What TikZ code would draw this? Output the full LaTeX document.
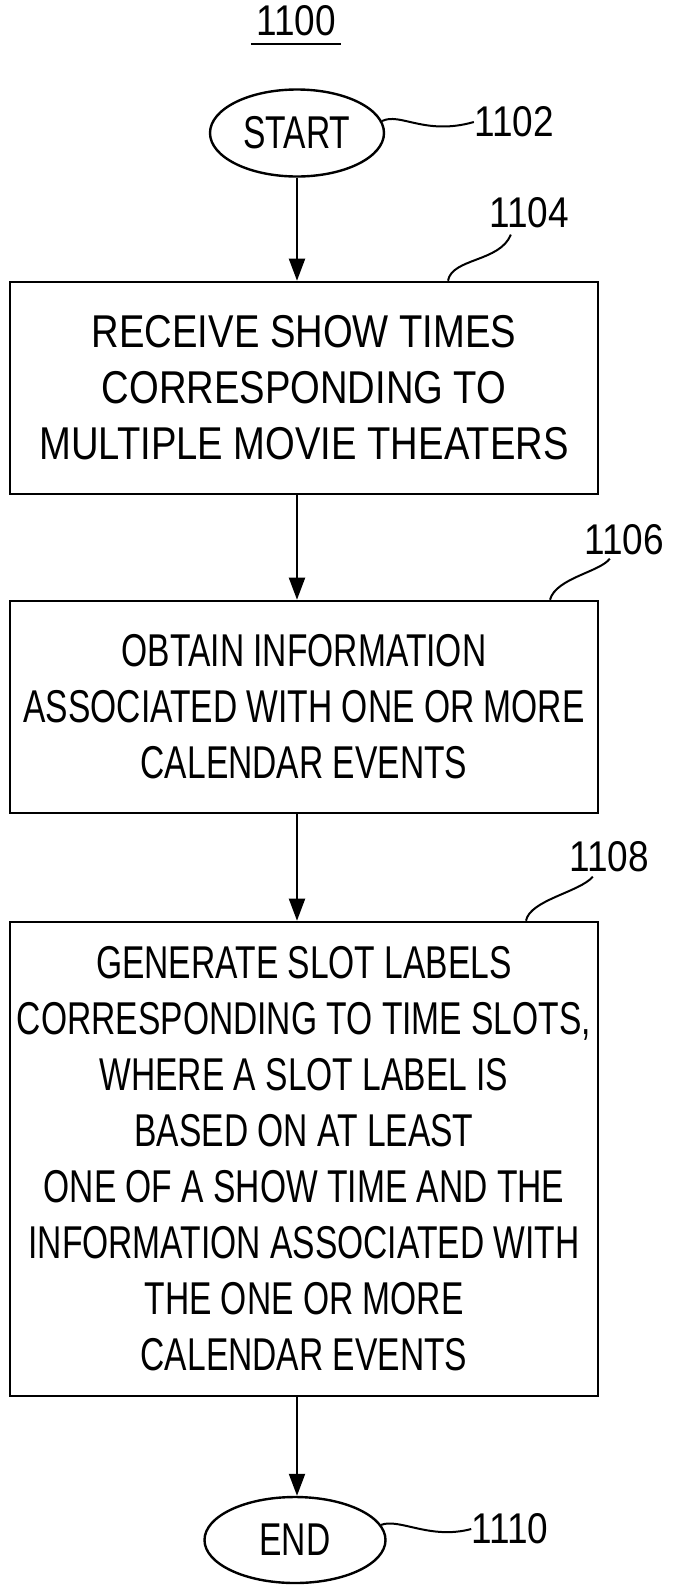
\documentclass[tikz,border=0pt]{standalone}
\usepackage{fontspec}
\setmainfont{Liberation Sans}[FakeStretch=0.73]
\newfontfamily\wideface{Liberation Sans}[FakeStretch=0.83]
\newfontfamily\numface{Liberation Sans}[FakeStretch=0.86]
\usetikzlibrary{shapes.geometric,arrows.meta}

\tikzset{
  stepbox/.style={draw, line width=1.3pt, minimum width=294pt, inner sep=0pt,
    align=center, font=\fontsize{23}{28}\selectfont},
  terminal/.style={draw, ellipse, line width=1.2pt, inner sep=0pt,
    font=\fontsize{23}{28}\selectfont},
  refnum/.style={inner sep=0pt, font=\numface\fontsize{21.5}{24}\selectfont},
  flow/.style={line width=1pt, -{Triangle[length=11pt,width=8pt]}},
  leader/.style={line width=1pt},
}

\begin{document}
\begin{tikzpicture}[x=0.5pt, y=-0.5pt]
    \useasboundingbox (0,0) rectangle (681,1585);

    % Figure number
    \node[refnum] (fig) at (296,21) {1100};
    \draw[line width=1pt] ([xshift=-2.5pt,yshift=-3.5pt]fig.south west) -- ([xshift=2.5pt,yshift=-3.5pt]fig.south east);

    % Start
    \node[terminal, minimum width=87pt, minimum height=43.5pt] (start) at (297,133) {START};
    \node[refnum] (n1102) at (514,122) {1102};
    \draw[leader] (start.8) .. controls (400,112) and (425,136) .. (n1102.west);

    % Receive show times
    \node[stepbox, minimum height=106pt, font=\wideface\fontsize{23}{28}\selectfont] (recv) at (304,388)
        {RECEIVE SHOW TIMES\\CORRESPONDING TO\\MULTIPLE MOVIE THEATERS};
    \node[refnum] (n1104) at (529,213) {1104};
    \draw[leader] ([xshift=72pt]recv.north) .. controls (452,258) and (500,262) .. ([xshift=11pt,yshift=-3pt]n1104.south west);

    % Obtain calendar information
    \node[stepbox, minimum height=106pt] (info) at (304,707)
        {OBTAIN INFORMATION\\ASSOCIATED WITH ONE OR MORE\\CALENDAR EVENTS};
    \node[refnum] (n1106) at (624,540) {1106};
    \draw[leader] ([xshift=123pt]info.north) .. controls (556,578) and (600,572) .. ([xshift=13pt,yshift=-1.5pt]n1106.south west);

    % Generate slot labels
    \node[stepbox, minimum height=237pt] (gen) at (304,1159)
        {GENERATE SLOT LABELS\\CORRESPONDING TO TIME SLOTS,\\WHERE A SLOT LABEL IS\\BASED ON AT LEAST\\ONE OF A SHOW TIME AND THE\\INFORMATION ASSOCIATED WITH\\THE ONE OR MORE\\CALENDAR EVENTS};
    \node[refnum] (n1108) at (609,857) {1108};
    \draw[leader] ([xshift=111pt]gen.north) .. controls (530,900) and (580,892) .. ([xshift=12pt,yshift=-2pt]n1108.south west);

    % End
    \node[terminal, minimum width=90.5pt, minimum height=43pt] (end) at (295,1540) {END};
    \node[refnum] (n1110) at (510,1529) {1110};
    \draw[leader] (end.10) .. controls (400,1518) and (430,1540) .. (n1110.west);

    % Flow arrows
    \draw[flow] (start.south) -- (start.south |- recv.north);
    \draw[flow] (start.south |- recv.south) -- (start.south |- info.north);
    \draw[flow] (start.south |- info.south) -- (start.south |- gen.north);
    \draw[flow] (start.south |- gen.south) -- (start.south |- end.north);

\end{tikzpicture}
\end{document}
